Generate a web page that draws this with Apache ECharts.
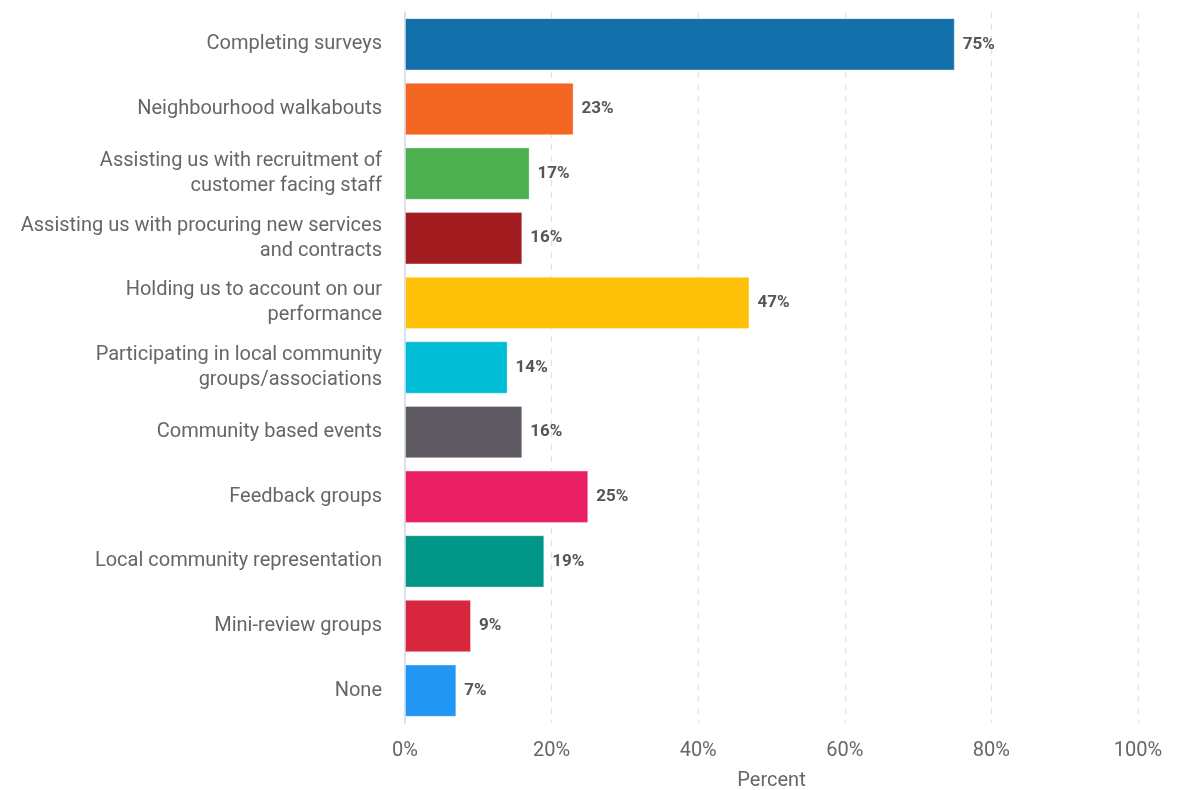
<!DOCTYPE html>
<html><head><meta charset="utf-8">
<script src="https://cdn.jsdelivr.net/npm/echarts@6/dist/echarts.min.js"></script>
<style>html,body{margin:0;padding:0;background:#fff}#c{width:1178px;height:790px}</style>
</head><body><div id="c"></div>
<script>
const categories = [
  "Completing surveys",
  "Neighbourhood walkabouts",
  "Assisting us with recruitment of\ncustomer facing staff",
  "Assisting us with procuring new services\nand contracts",
  "Holding us to account on our\nperformance",
  "Participating in local community\ngroups/associations",
  "Community based events",
  "Feedback groups",
  "Local community representation",
  "Mini-review groups",
  "None"
];
const values = [75, 23, 17, 16, 47, 14, 16, 25, 19, 9, 7];
const colors = ["#1170aa","#f36621","#4caf50","#a21b1f","#ffc107","#00bcd4","#5f5a62","#e91e63","#009688","#d7263d","#2196f3"];
const xTicks = [0, 20, 40, 60, 80, 100];

const chart = echarts.init(document.getElementById('c'));
chart.setOption({
  animation: false,
  textStyle: {fontFamily: 'Roboto'},
  grid: {left: 405, right: 40, top: 12, bottom: 67, containLabel: false, outerBoundsMode: 'none'},
  xAxis: {
    type: 'value', min: xTicks[0], max: xTicks[xTicks.length-1], interval: 20,
    name: 'Percent', nameLocation: 'middle', nameGap: 48,
    nameTextStyle: {fontSize: 20, color: '#666', fontFamily: 'Roboto'},
    axisLine: {show: false}, axisTick: {show: false},
    axisLabel: {formatter: '{value}%', fontSize: 20, color: '#666', margin: 18, fontFamily: 'Roboto'},
    splitLine: {show: true, lineStyle: {color: '#e3e3e3', type: [6, 6], width: 1.3}, showMinLine: false}
  },
  yAxis: {
    type: 'category', data: categories, inverse: true,
    axisLine: {show: true, lineStyle: {color: '#ccd6eb', width: 1.5}},
    axisTick: {show: false},
    axisLabel: {fontSize: 20, color: '#666', margin: 23, lineHeight: 25, align: 'right', fontFamily: 'Roboto'},
    splitLine: {show: false}
  },
  series: [{
    type: 'bar',
    barCategoryGap: '19%',
    data: values.map((v, i) => ({value: v, itemStyle: {color: colors[i], borderColor: 'rgba(255,255,255,0.35)', borderWidth: 1}})),
    label: {show: true, position: 'right', distance: 8, formatter: '{c}%', fontSize: 17, fontWeight: 'bold', color: '#555', fontFamily: 'Roboto'}
  }]
});
</script></body></html>
